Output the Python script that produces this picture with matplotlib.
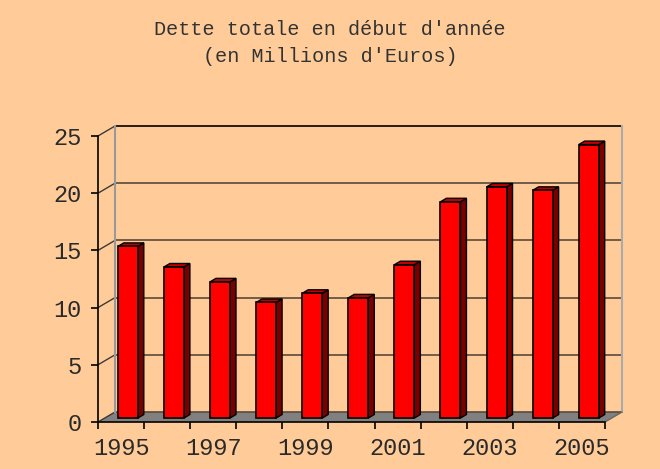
import matplotlib.pyplot as plt
from matplotlib.patches import Polygon

# Dette totale en début d'année (millions d'euros)
annees = [1995, 1996, 1997, 1998, 1999, 2000, 2001, 2002, 2003, 2004, 2005]
dette = [15.0, 13.2, 11.9, 10.1, 10.9, 10.5, 13.4, 18.9, 20.2, 19.9, 23.9]
yticks = [0, 5, 10, 15, 20, 25]

titre = "Dette totale en début d'année\n(en Millions d'Euros)"

fond = '#FFCC99'
police = 'Liberation Mono'

# profondeur du faux 3D, en unités de données
dx = 0.369
dy = 0.874
f_avant, f_arriere = 0.40, 0.75
largeur = 0.434
n = len(annees)

fig = plt.figure(figsize=(6.6, 4.69), dpi=100, facecolor=fond)
ax = fig.add_axes([98 / 660, 47 / 469, 507 / 660, 286 / 469])
ax.set_facecolor('none')
ax.set_xlim(0, n)
ax.set_ylim(0, 25)

# sol gris
ax.add_patch(Polygon([(0, 0), (n, 0), (n + dx, dy), (dx, dy)], closed=True,
                     facecolor='#808080', edgecolor='none', clip_on=False, zorder=1))

# mur du fond et mur de gauche
for k in yticks:
    c = '#000000' if k == 25 else '#5a4a3a'
    ax.plot([dx, n + dx], [k + dy, k + dy], color=c, lw=1.2, clip_on=False, zorder=2)
    ax.plot([0, dx], [k, k + dy], color='#3a3a3a', lw=1.0, clip_on=False, zorder=2)
ax.plot([dx, dx], [dy, 25 + dy], color='#999999', lw=1.5, clip_on=False, zorder=2)
ax.plot([n + dx, n + dx], [dy, 25 + dy], color='#aaaaaa', lw=1.5, clip_on=False, zorder=2)
ax.plot([n, n + dx], [0, dy], color='#666666', lw=1.0, clip_on=False, zorder=2)

# barres : face avant
centres = [i + 0.5 + f_avant * dx for i in range(n)]
bas = f_avant * dy
ax.bar(centres, dette, width=largeur, bottom=bas, color='#FF0000',
       edgecolor='black', linewidth=1.2, zorder=5, clip_on=False)

# barres : côté et dessus
ddx = (f_arriere - f_avant) * dx
ddy = (f_arriere - f_avant) * dy
for xc, v in zip(centres, dette):
    x1 = xc + largeur / 2
    x0 = xc - largeur / 2
    haut = v + bas
    cote = [(x1, bas), (x1 + ddx, bas + ddy), (x1 + ddx, haut + ddy), (x1, haut)]
    dessus = [(x0, haut), (x1, haut), (x1 + ddx, haut + ddy), (x0 + ddx, haut + ddy)]
    ax.add_patch(Polygon(cote, closed=True, facecolor='#7a0000',
                         edgecolor='black', lw=1.0, zorder=4, clip_on=False))
    ax.add_patch(Polygon(dessus, closed=True, facecolor='#C00000',
                         edgecolor='black', lw=1.0, zorder=4, clip_on=False))

# axes
for s in ['top', 'right']:
    ax.spines[s].set_visible(False)
ax.spines['left'].set_linewidth(1.2)
ax.spines['bottom'].set_linewidth(1.2)
ax.spines['left'].set_zorder(6)
ax.spines['bottom'].set_zorder(3)

ax.set_yticks(yticks)
ax.set_yticklabels([str(k) for k in yticks], fontsize=17, family=police, color='#2a2a2a')
ax.tick_params(axis='y', length=5, width=1.2, pad=7)

ax.set_xticks(range(n + 1))
ax.set_xticklabels([])
ax.tick_params(axis='x', which='major', length=5, width=1.2)
ax.set_xticks([i + 0.5 for i in range(0, n, 2)], minor=True)
ax.set_xticklabels([str(annees[i]) for i in range(0, n, 2)], minor=True,
                   fontsize=17, family=police, color='#2a2a2a')
ax.tick_params(axis='x', which='minor', length=0, pad=11)

fig.text(0.5, 1 - 43 / 469, titre, ha='center', va='center', fontsize=14.5,
         family=police, color='#333333', linespacing=1.55)

fig.savefig('out.png', dpi=100, facecolor=fond)
